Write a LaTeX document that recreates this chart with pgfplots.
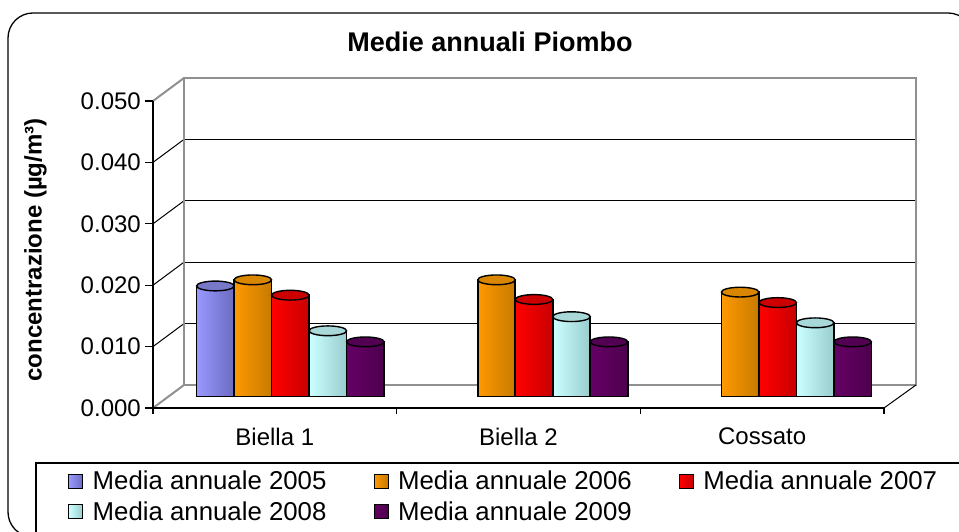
\documentclass[border=0pt]{standalone}
\usepackage{pgfplots}
\pgfplotsset{compat=1.18}
\usepackage{fontspec}
\setmainfont{Liberation Sans}
\definecolor{cA}{HTML}{9999FF}\definecolor{cAd}{HTML}{6B6BC0}\definecolor{cAc}{HTML}{7878C8}
\definecolor{cB}{HTML}{FF9900}\definecolor{cBd}{HTML}{C77A00}\definecolor{cBc}{HTML}{D98600}
\definecolor{cC}{HTML}{FF0000}\definecolor{cCd}{HTML}{C80000}\definecolor{cCc}{HTML}{CC0000}
\definecolor{cD}{HTML}{CCFFFF}\definecolor{cDd}{HTML}{99CCCC}\definecolor{cDc}{HTML}{A8D8D8}
\definecolor{cE}{HTML}{660066}\definecolor{cEd}{HTML}{4D004D}\definecolor{cEc}{HTML}{520052}
\definecolor{wallgray}{HTML}{909090}
\pgfplotstableread{
x y
1 0.0180
}\dA
\pgfplotstableread{
x y
1 0.0190
2 0.0190
3 0.0170
}\dB
\pgfplotstableread{
x y
1 0.0165
2 0.0158
3 0.0153
}\dC
\pgfplotstableread{
x y
1 0.0107
2 0.0130
3 0.0120
}\dD
\pgfplotstableread{
x y
1 0.0089
2 0.0089
3 0.0089
}\dE
\pgfplotsset{
  barA/.style={ybar, bar width=37.5pt, bar shift=-75pt, left color=cA, right color=cAd, draw=black, line width=1.6pt},
  barB/.style={ybar, bar width=37.5pt, bar shift=-37.5pt, left color=cB, right color=cBd, draw=black, line width=1.6pt},
  barC/.style={ybar, bar width=37.5pt, bar shift=0pt, left color=cC, right color=cCd, draw=black, line width=1.6pt},
  barD/.style={ybar, bar width=37.5pt, bar shift=37.5pt, left color=cD, right color=cDd, draw=black, line width=1.6pt},
  barE/.style={ybar, bar width=37.5pt, bar shift=75pt, left color=cE, right color=cEd, draw=black, line width=1.6pt},
  cap/.style={forget plot, only marks, mark=*, mark size=18.75pt, mark options={yscale=0.26, fill=#1, draw=black, line width=1.4pt}},
  limg/.style={legend image code/.code={\draw[fill=#1,draw=black,line width=1pt] (0pt,-7pt) rectangle (14pt,7pt);}},
}
\begin{document}
\begin{tikzpicture}
\useasboundingbox (0,0) rectangle (959pt,532pt);
\begin{scope}[x=1pt,y=-1pt,yshift=532pt]
  % chart border
  \draw[black, line width=1.3pt, rounded corners=25pt] (8,13) rectangle (973,537);
  % legend box
  \draw[black, line width=1.3pt] (36,463) rectangle (990,560);
  % back wall gridlines
  \foreach \k in {1,2,3,4} {
    \draw[black, line width=1.1pt] (184,{385-61.4*\k}) -- (916,{385-61.4*\k});
    \draw[black, line width=1.0pt] (153,{408-61.4*\k}) -- (184,{385-61.4*\k});
  }
  % back wall frame and floor
  \draw[wallgray, line width=2pt] (184,78) rectangle (916,385);
  \draw[wallgray, line width=2pt] (153,101) -- (184,78);
  \draw[wallgray, line width=2pt] (153,408) -- (184,385);
  \draw[black, line width=1.0pt] (884,408) -- (916,385);
  % front axis and floor edge
  \draw[black, line width=1.3pt] (153,101) -- (153,414);
  \draw[black, line width=1.3pt] (153,408) -- (884,408);
  \foreach \k in {0,1,2,3,4,5} \draw[black, line width=1.3pt] (145,{408-61.4*\k}) -- (153,{408-61.4*\k});
  \foreach \xx in {396.7,640.3,884} \draw[black, line width=1.3pt] (\xx,408) -- (\xx,414);
\end{scope}
\begin{axis}[
  at={(168.5pt,135.5pt)}, anchor=south west,
  scale only axis, width=731pt, height=307pt,
  xmin=0.5, xmax=3.5, ymin=0, ymax=0.05,
  axis line style={draw=none}, tick style={draw=none},
  xtick={1,2,3}, xticklabels={Biella 1,Biella 2,Cossato},
  ytick={0,0.01,0.02,0.03,0.04,0.05},
  scaled y ticks=false,
  /pgf/number format/assume math mode=true,
  yticklabel style={/pgf/number format/fixed, /pgf/number format/fixed zerofill,
    /pgf/number format/precision=3,
    font=\fontsize{24}{27}\selectfont, inner sep=0pt, xshift=-27.5pt, yshift=-11.5pt},
  xticklabel style={font=\fontsize{24}{27}\selectfont, inner sep=0pt, xshift=-15.5pt, yshift=-31pt},
  title={Medie annuali Piombo},
  title style={at={(axis description cs:0.4398,1.135)}, anchor=center, font=\bfseries\fontsize{27}{30}\selectfont},
  ylabel={concentrazione (µg/m³)},
  ylabel style={at={(axis description cs:-0.182,0.4772)}, anchor=center, rotate=0, font=\bfseries\fontsize{24}{27}\selectfont},
  legend columns=3,
  legend cell align=left,
  legend style={at={(axis description cs:-0.1375,-0.236)}, anchor=north west, draw=none, fill=none,
    inner sep=0pt, font=\fontsize{25.8}{28}\selectfont, nodes={inner sep=2pt}, row sep=6pt,
    /tikz/every odd column/.append style={column sep=7.5pt},
    /tikz/every even column/.append style={column sep=45pt}},
]
% 2005
\addplot[barA, limg=cA, restrict x to domain=1:1] table[x=x,y=y] {\dA};
\addlegendentry{Media annuale 2005}
\addplot[cap=cAc, xshift=-75pt] table[x=x,y=y] {\dA};
% 2006
\addplot[barB, limg=cB, restrict x to domain=1:1] table[x=x,y=y] {\dB};
\addlegendentry{Media annuale 2006}
\addplot[barB, forget plot, restrict x to domain=2:2] table[x=x,y=y] {\dB};
\addplot[barB, forget plot, restrict x to domain=3:3] table[x=x,y=y] {\dB};
\addplot[cap=cBc, xshift=-37.5pt] table[x=x,y=y] {\dB};
% 2007
\addplot[barC, limg=cC, restrict x to domain=1:1] table[x=x,y=y] {\dC};
\addlegendentry{Media annuale 2007}
\addplot[barC, forget plot, restrict x to domain=2:2] table[x=x,y=y] {\dC};
\addplot[barC, forget plot, restrict x to domain=3:3] table[x=x,y=y] {\dC};
\addplot[cap=cCc] table[x=x,y=y] {\dC};
% 2008
\addplot[barD, limg=cD, restrict x to domain=1:1] table[x=x,y=y] {\dD};
\addlegendentry{Media annuale 2008}
\addplot[barD, forget plot, restrict x to domain=2:2] table[x=x,y=y] {\dD};
\addplot[barD, forget plot, restrict x to domain=3:3] table[x=x,y=y] {\dD};
\addplot[cap=cDc, xshift=37.5pt] table[x=x,y=y] {\dD};
% 2009
\addplot[barE, limg=cE, restrict x to domain=1:1] table[x=x,y=y] {\dE};
\addlegendentry{Media annuale 2009}
\addplot[barE, forget plot, restrict x to domain=2:2] table[x=x,y=y] {\dE};
\addplot[barE, forget plot, restrict x to domain=3:3] table[x=x,y=y] {\dE};
\addplot[cap=cEc, xshift=75pt] table[x=x,y=y] {\dE};
\end{axis}
\end{tikzpicture}
\end{document}
